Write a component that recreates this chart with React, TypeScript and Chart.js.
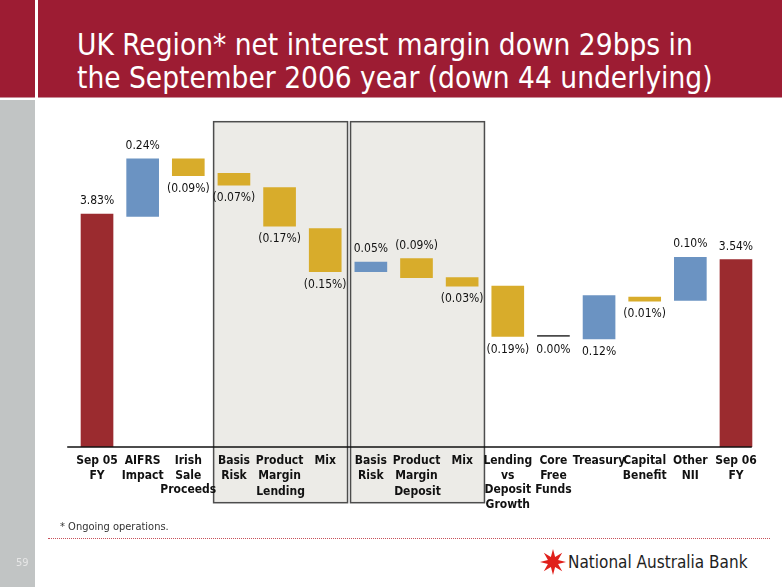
import React, { useEffect, useRef } from "react";
import { Chart, registerables } from "chart.js";

Chart.register(...registerables);

// ---- data ----
const categories: string[][] = [
  ["Sep 05", "FY"],
  ["AIFRS", "Impact"],
  ["Irish", "Sale", "Proceeds"],
  ["Basis", "Risk"],
  ["Product", "Margin"],
  ["Mix"],
  ["Basis", "Risk"],
  ["Product", "Margin"],
  ["Mix"],
  ["Lending", "vs", "Deposit", "Growth"],
  ["Core", "Free", "Funds"],
  ["Treasury"],
  ["Capital", "Benefit"],
  ["Other", "NII"],
  ["Sep 06", "FY"],
];
const valueLabels = [
  "3.83%", "0.24%", "(0.09%)", "(0.07%)", "(0.17%)", "(0.15%)",
  "0.05%", "(0.09%)", "(0.03%)", "(0.19%)", "0.00%", "0.12%",
  "(0.01%)", "0.10%", "3.54%",
];
// floating bar extents (NIM %), as drawn in the picture
const barLow = [2.86, 3.82, 3.99, 3.95, 3.78, 3.59, 3.59, 3.565, 3.53, 3.32, 3.32, 3.31, 3.467, 3.47, 2.86];
const barHigh = [3.83, 4.06, 4.06, 4.0, 3.94, 3.77, 3.63, 3.645, 3.565, 3.53, 3.325, 3.49, 3.484, 3.65, 3.64];
const barKind = ["total", "up", "down", "down", "down", "down", "up", "down", "down", "down", "zero", "up", "down", "up", "total"];
const labelSide = ["above", "above", "below", "below", "below", "below", "above", "above", "below", "below", "below", "below", "below", "above", "above"];
const groupNames = ["Lending", "Deposit"];
const groupFirst = [3, 6];
const groupLast = [5, 8];
const yMin = 2.86;
const yMax = 4.18;

const kindColor: Record<string, string> = {
  total: "#9b2b2f",
  up: "#6b93c2",
  down: "#d8ac2b",
  zero: "#4a4a4a",
};

const FONT = '"DejaVu Sans Condensed", "DejaVu Sans", sans-serif';

const groupBoxPlugin = {
  id: "groupBoxes",
  beforeDraw(chart: any) {
    const { ctx, chartArea, scales } = chart;
    const x = scales.x;
    const step = x.getPixelForValue(1) - x.getPixelForValue(0);
    ctx.save();
    groupNames.forEach((name, i) => {
      const left = x.getPixelForValue(groupFirst[i]) - step / 2 + 2.5;
      const right = x.getPixelForValue(groupLast[i]) + step / 2 - 0.5;
      const top = chartArea.top - 8.3;
      const bottom = chartArea.bottom + 55.7;
      ctx.fillStyle = "#ecebe7";
      ctx.fillRect(left, top, right - left, bottom - top);
      ctx.strokeStyle = "#4d4d4d";
      ctx.lineWidth = 1.5;
      ctx.strokeRect(left, top, right - left, bottom - top);
      ctx.fillStyle = "#111";
      ctx.font = `bold 12px ${FONT}`;
      ctx.textAlign = "center";
      ctx.textBaseline = "middle";
      ctx.fillText(name, (left + right) / 2, chartArea.bottom + 45);
    });
    ctx.restore();
  },
};

const labelPlugin = {
  id: "valueLabels",
  afterDatasetsDraw(chart: any) {
    const { ctx, chartArea } = chart;
    const meta = chart.getDatasetMeta(0);
    ctx.save();
    // axis line
    ctx.strokeStyle = "#111";
    ctx.lineWidth = 1.6;
    ctx.beginPath();
    ctx.moveTo(chartArea.left - 7, chartArea.bottom);
    ctx.lineTo(chartArea.right - 7, chartArea.bottom);
    ctx.stroke();
    ctx.font = `12px ${FONT}`;
    ctx.fillStyle = "#111";
    ctx.textAlign = "center";
    ctx.textBaseline = "middle";
    meta.data.forEach((el: any, i: number) => {
      const top = Math.min(el.y, el.base);
      const bottom = Math.max(el.y, el.base);
      const y = labelSide[i] === "above" ? top - 13 : bottom + 13;
      ctx.fillText(valueLabels[i], el.x, y);
    });
    ctx.restore();
  },
};

function WaterfallChart() {
  const ref = useRef<HTMLCanvasElement | null>(null);
  useEffect(() => {
    if (!ref.current) return;
    const chart = new Chart(ref.current, {
      type: "bar",
      data: {
        labels: categories as any,
        datasets: [
          {
            data: barLow.map((lo, i) => [lo, barHigh[i]]) as any,
            backgroundColor: barKind.map((k) => kindColor[k]),
            borderWidth: 0,
            barThickness: 32,
            grouped: false,
          } as any,
        ],
      },
      options: {
        animation: false,
        responsive: false,
        devicePixelRatio: 1,
        layout: { padding: { top: 10, left: 74.2, right: 23.2, bottom: 0 } },
        plugins: { legend: { display: false }, tooltip: { enabled: false } },
        scales: {
          x: {
            type: "category",
            grid: { display: false, drawTicks: false },
            border: { display: false },
            ticks: {
              autoSkip: false,
              maxRotation: 0,
              minRotation: 0,
              padding: 7,
              color: "#111",
              font: { family: FONT, size: 12, weight: "bold", lineHeight: 1.2 },
            },
            afterFit: (s: any) => {
              s.height = 73;
            },
          },
          y: {
            display: false,
            min: yMin,
            max: yMax,
          },
        },
      },
      plugins: [groupBoxPlugin, labelPlugin],
    });
    return () => chart.destroy();
  }, []);
  return (
    <canvas
      ref={ref}
      width={782}
      height={400}
      style={{ position: "absolute", left: 0, top: 120, width: 782, height: 400 }}
    />
  );
}

function Star() {
  const pts: string[] = [];
  const n = 8;
  for (let i = 0; i < n * 2; i++) {
    const r = i % 2 === 0 ? 13 : 5.5;
    const a = (Math.PI * i) / n - Math.PI / 2;
    pts.push(`${13 + r * Math.cos(a)},${13 + r * Math.sin(a)}`);
  }
  return (
    <svg width={26} height={26} style={{ position: "absolute", left: 540, top: 549 }}>
      <polygon points={pts.join(" ")} fill="#e0201b" />
    </svg>
  );
}

export default function App() {
  return (
    <div
      style={{
        position: "absolute",
        left: 0,
        top: 0,
        width: 782,
        height: 587,
        background: "#fff",
        overflow: "hidden",
        fontFamily: FONT,
      }}
    >
      <div style={{ position: "absolute", left: 0, top: 0, width: 782, height: 97, background: "#9d1c33" }} />
      <div style={{ position: "absolute", left: 0, top: 97, width: 782, height: 1, background: "#c98c97" }} />
      <div style={{ position: "absolute", left: 35, top: 0, width: 3, height: 98, background: "#fff" }} />
      <div style={{ position: "absolute", left: 0, top: 100, width: 35, height: 487, background: "#c1c4c4" }} />
      <div
        style={{
          position: "absolute",
          left: 77,
          top: 29,
          color: "#fff",
          fontSize: 29.5,
          lineHeight: "33px",
          whiteSpace: "nowrap",
        }}
      >
        <div>UK Region* net interest margin down 29bps in</div>
        <div>the September 2006 year (down 44 underlying)</div>
      </div>
      <WaterfallChart />
      <div style={{ position: "absolute", left: 60, top: 519, fontSize: 11, color: "#333", lineHeight: "16px" }}>
        * Ongoing operations.
      </div>
      <div style={{ position: "absolute", left: 48, top: 538, width: 722, borderTop: "1.5px dotted #c8505a" }} />
      <div style={{ position: "absolute", left: 16, top: 555, fontSize: 11, color: "#e6e6e6", lineHeight: "16px" }}>59</div>
      <Star />
      <div
        style={{
          position: "absolute",
          left: 568,
          top: 551,
          fontSize: 17,
          lineHeight: "23px",
          color: "#1e1e1e",
          whiteSpace: "nowrap",
        }}
      >
        National Australia Bank
      </div>
    </div>
  );
}
